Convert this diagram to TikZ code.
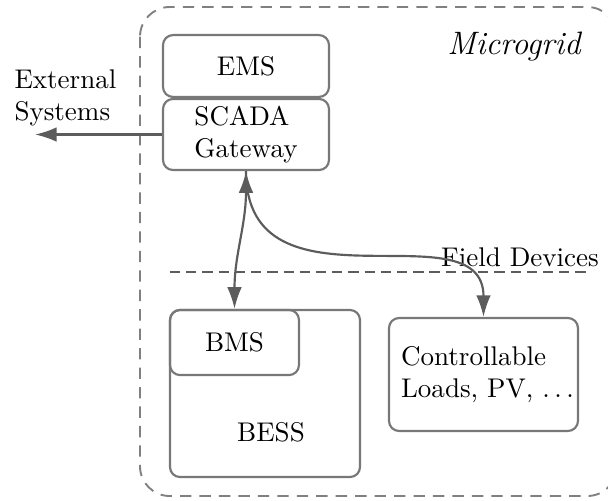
\documentclass[tikz,border=0pt]{standalone}
\usetikzlibrary{arrows.meta}
\definecolor{boxgray}{HTML}{787878}
\definecolor{arrgray}{HTML}{5C5C5C}
\definecolor{outergray}{HTML}{808080}
\begin{document}
\begin{tikzpicture}[x=0.37pt,y=-0.37pt,
  box/.style={draw=boxgray,line width=0.8pt,rounded corners=3.7pt,inner sep=0pt},
  lbl/.style={inner sep=0pt,font=\normalsize},
  arr/.style={draw=arrgray,line width=0.8pt,-{Latex[length=8pt,width=5.4pt]}},
  darr/.style={draw=arrgray,line width=0.8pt,{Latex[length=8pt,width=5.4pt]}-{Latex[length=8pt,width=5.4pt]}},
  fieldline/.style={draw=arrgray,line width=0.9pt,dash pattern=on 3.8pt off 2.2pt},
  outerline/.style={draw=outergray,line width=0.7pt,dash pattern=on 4.2pt off 3pt,rounded corners=11pt}]
\clip (0,0) rectangle (608,500);
% outer microgrid boundary
\draw[outerline] (140,7) rectangle (617,496);
\node[lbl,font=\large\itshape] (mg) at (514,47) {Microgrid};
% control boxes
\node[box,minimum width=61.4pt,minimum height=22.9pt] (ems) at (246,66) {EMS};
\node[box,minimum width=61.4pt,minimum height=26.3pt,align=left] (scada) at (246,134.5) {SCADA\\Gateway};
% external systems
\node[lbl,anchor=west,align=left] (ext) at (14,98) {External\\Systems};
\coordinate (extend) at (35,134.5);
\draw[arr] (scada.west) -- (extend);
% field devices separator
\coordinate (fd1) at (170,272);
\coordinate (fd2) at (587,272);
\draw[fieldline] (fd1) -- (fd2);
\node[lbl] (fdlabel) at (520,257) {Field Devices};
% BESS
\node[box,minimum width=70.3pt,minimum height=61.8pt] (bess) at (265,393.5) {};
\node[lbl] (besstext) at (271,432) {BESS};
\node[box,minimum width=47.7pt,minimum height=24.1pt] (bms) at (234.5,342.5) {BMS};
% controllable loads
\node[box,minimum width=69.9pt,minimum height=41.8pt] (ctrl) at (483.5,374.5) {};
\node[lbl,align=left] (ctrltext) at (487.5,374.5) {Controllable\\Loads, PV, $\dots$};
% connectors
\draw[darr] (scada.south) to[out=-90,in=90] (bms.north);
\draw[arr] (scada.south) .. controls +(0,150) and +(0,-112) .. (ctrl.north);
\end{tikzpicture}
\end{document}
